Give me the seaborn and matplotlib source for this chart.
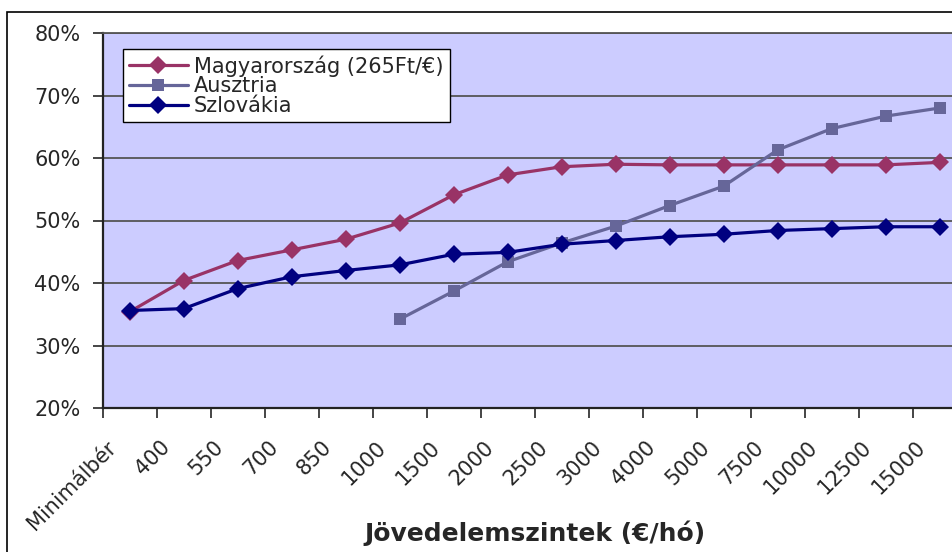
import matplotlib
matplotlib.use("Agg")
import matplotlib.pyplot as plt
import matplotlib.transforms as mtransforms
from matplotlib.patches import Rectangle
from matplotlib.ticker import FuncFormatter
import seaborn as sns
import pandas as pd
import numpy as np

sns.set_style("white")
plt.rcParams["font.family"] = ["DejaVu Sans"]

# ======================
# DATA
# ======================
categories = ["Minimálbér", "400", "550", "700", "850", "1000", "1500", "2000",
              "2500", "3000", "4000", "5000", "7500", "10000", "12500", "15000"]

hu = [35.4, 40.4, 43.6, 45.3, 47.0, 49.6, 54.1, 57.3,
      58.6, 59.0, 58.9, 58.9, 58.9, 58.9, 58.9, 59.3]
at = [np.nan, np.nan, np.nan, np.nan, np.nan, 34.2, 38.7, 43.4,
      46.4, 49.1, 52.4, 55.5, 61.3, 64.7, 66.7, 68.0]
sk = [35.6, 35.9, 39.1, 41.0, 42.0, 42.9, 44.6, 44.9,
      46.2, 46.8, 47.4, 47.8, 48.4, 48.7, 49.0, 49.0]

series_names = ["Magyarország (265Ft/€)", "Ausztria", "Szlovákia"]
colors = ["#993366", "#666699", "#000080"]
markers = ["D", "s", "D"]

df = pd.concat([
    pd.DataFrame({"Jövedelem": categories, "Arány": vals, "Ország": name})
    for name, vals in zip(series_names, [hu, at, sk])
], ignore_index=True)

# ======================
# PLOTTING
# ======================
fig = plt.figure(figsize=(9.53, 5.52), dpi=100)
ax = fig.add_axes([102.7 / 953, 1 - 408 / 552, 864 / 953, 375 / 552])
ax.set_facecolor("#CCCCFF")

sns.lineplot(
    data=df, x="Jövedelem", y="Arány",
    hue="Ország", hue_order=series_names, palette=colors,
    style="Ország", style_order=series_names,
    markers=dict(zip(series_names, markers)), dashes=False,
    linewidth=2.3, markersize=9, markeredgewidth=0,
    legend=False, ax=ax,
)

ax.set_xlim(-0.5, len(categories) - 0.5)
ax.set_ylim(20, 80)
ax.set_yticks(range(20, 81, 10))
ax.yaxis.set_major_formatter(FuncFormatter(lambda v, p: f"{v:.0f}%"))
ax.yaxis.grid(True, color="#555555", linewidth=1.3)
ax.set_axisbelow(True)

for side in ["left", "bottom"]:
    ax.spines[side].set_color("#222222")
    ax.spines[side].set_linewidth(1.6)
ax.spines["top"].set_color("#555555")
ax.spines["top"].set_linewidth(1.3)
ax.spines["right"].set_visible(False)

ax.tick_params(axis="y", left=True, length=7, width=1.2, pad=9, labelsize=15)
ax.set_xticks(np.arange(-0.5, len(categories), 1), minor=True)
ax.tick_params(axis="x", which="minor", bottom=True, length=7, width=1.2)
ax.tick_params(axis="x", which="major", length=0, pad=8, labelsize=15)
offset = mtransforms.ScaledTranslation(-17 / 100, -25 / 100, fig.dpi_scale_trans)
for lab in ax.get_xticklabels():
    lab.set_rotation(45)
    lab.set_ha("right")
    lab.set_va("center")
    lab.set_rotation_mode("anchor")
    lab.set_transform(lab.get_transform() + offset)

ax.set_ylabel("")
ax.set_xlabel("Jövedelemszintek (€/hó)", fontsize=18, fontweight="bold", va="center")
ax.xaxis.set_label_coords(0.5, -(533 - 408) / 375)

leg = ax.legend(
    ax.lines[:3], series_names,
    loc="upper left", bbox_to_anchor=(123 / 953, 1 - 49 / 552),
    bbox_transform=fig.transFigure, borderaxespad=0,
    fontsize=15, frameon=True, fancybox=False, framealpha=1,
    edgecolor="black", handlelength=2.8, handletextpad=0.3,
    labelspacing=-0.02, borderpad=0.3,
)
leg.get_frame().set_linewidth(1.0)

# outer chart border
fig.patches.append(Rectangle((7 / 953, -0.1), 1.1, 1.1 - 12 / 552,
                             transform=fig.transFigure, fill=False,
                             edgecolor="black", linewidth=1.2))

plt.savefig("out.png", dpi=100)
plt.close()
